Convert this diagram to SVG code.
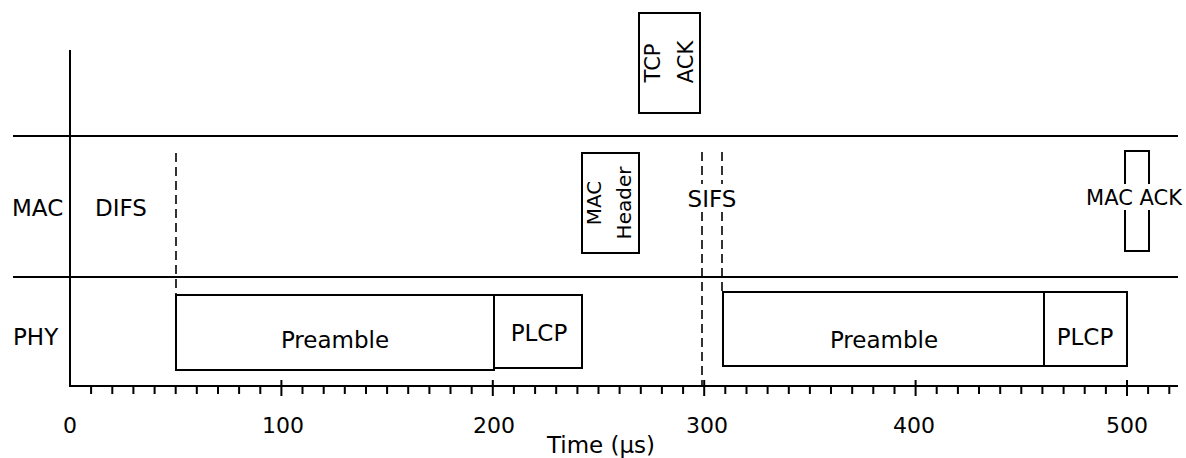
<svg xmlns="http://www.w3.org/2000/svg" width="1186" height="458" viewBox="0 0 1186 458">
<style>
text{font-family:"DejaVu Sans","Liberation Sans",sans-serif;fill:#000}
.ln{stroke:#000;stroke-width:2;fill:none}
.box{stroke:#000;stroke-width:2;fill:#fff}
.dash{stroke:#000;stroke-width:1.6;stroke-dasharray:9,5;fill:none}
.t23{font-size:23px}
.t20{font-size:20px}
.tk{font-size:22px;text-anchor:middle}
</style>
<rect width="1186" height="458" fill="#fff"/>
<g id="frame">
<path class="ln" d="M13 136 H1178 M13 277 H1178 M70 50 V386 H1178"/>
<path class="ln" stroke-width="1.6" d="M91.1 386V394M112.3 386V394M133.4 386V394M154.6 386V394M175.7 386V394M196.8 386V394M218 386V394M239.1 386V394M260.3 386V394M302.5 386V394M323.7 386V394M344.8 386V394M366 386V394M387.1 386V394M408.2 386V394M429.4 386V394M450.5 386V394M471.7 386V394M513.9 386V394M535.1 386V394M556.2 386V394M577.4 386V394M598.5 386V394M619.6 386V394M640.8 386V394M661.9 386V394M683.1 386V394M725.3 386V394M746.5 386V394M767.6 386V394M788.8 386V394M809.9 386V394M831 386V394M852.2 386V394M873.3 386V394M894.5 386V394M936.7 386V394M957.9 386V394M979 386V394M1000.2 386V394M1021.3 386V394M1042.4 386V394M1063.6 386V394M1084.7 386V394M1105.9 386V394M1148.1 386V394M1169.3 386V394"/>
<path class="ln" d="M281.4 380V396M492.8 380V396M704.2 380V396M915.6 380V396M1127 380V396"/>
<text class="tk" x="70" y="433">0</text>
<text class="tk" x="283" y="433">100</text>
<text class="tk" x="494" y="433">200</text>
<text class="tk" x="707" y="433">300</text>
<text class="tk" x="914" y="433">400</text>
<text class="tk" x="1127" y="433">500</text>
<text class="t23" x="601" y="453" text-anchor="middle">Time (μs)</text>
<text class="t23" x="12" y="216">MAC</text>
<text class="t23" x="13" y="345">PHY</text>
</g>
<g id="connectors">
<path class="dash" d="M176 153 V295"/>
<path class="dash" d="M702 152 V184 M702 212 V386"/>
<path class="dash" d="M722 152 V184 M722 212 V292"/>
</g>
<g id="difs"><text class="t23" x="95" y="216">DIFS</text></g>
<g id="sifs"><text class="t23" x="712" y="207" text-anchor="middle">SIFS</text></g>
<g id="preamble1">
<rect class="box" x="176" y="295" width="318" height="75"/>
<text class="t23" x="335" y="348" text-anchor="middle">Preamble</text>
</g>
<g id="plcp1">
<rect class="box" x="494" y="295" width="88" height="73"/>
<text class="t23" x="539" y="341" text-anchor="middle">PLCP</text>
</g>
<g id="preamble2">
<rect class="box" x="723" y="292" width="321" height="74"/>
<text class="t23" x="884" y="348" text-anchor="middle">Preamble</text>
</g>
<g id="plcp2">
<rect class="box" x="1044" y="292" width="83" height="74"/>
<text class="t23" x="1085" y="345" text-anchor="middle">PLCP</text>
</g>
<g id="mac-header">
<rect class="box" x="582" y="153" width="57" height="100"/>
<text class="t20" transform="translate(601 203) rotate(-90)" text-anchor="middle">MAC</text>
<text class="t20" transform="translate(631 203) rotate(-90)" text-anchor="middle">Header</text>
</g>
<g id="tcp-ack">
<rect class="box" x="639" y="13" width="61" height="100"/>
<text class="t20" font-size="21" transform="translate(660 63) rotate(-90)" text-anchor="middle" style="font-size:21px">TCP</text>
<text class="t20" transform="translate(693 62) rotate(-90)" text-anchor="middle" style="font-size:21px">ACK</text>
</g>
<g id="mac-ack">
<rect class="box" x="1125" y="151" width="24" height="100"/>
<rect x="1086" y="184" width="96" height="26" fill="#fff"/>
<text x="1134" y="205" text-anchor="middle" style="font-size:21px">MAC ACK</text>
</g>
</svg>
